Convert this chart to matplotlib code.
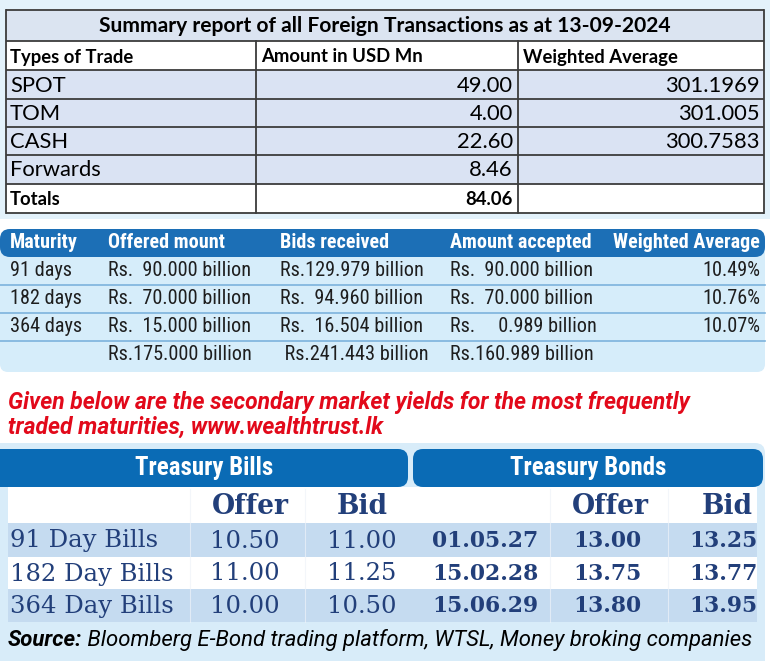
import matplotlib
matplotlib.use("Agg")
import matplotlib.pyplot as plt
from matplotlib.patches import Rectangle, FancyBboxPatch
from matplotlib.font_manager import FontProperties, findfont
from matplotlib.textpath import TextPath

# ---------------- data ----------------
fx_title = "Summary report of all Foreign Transactions as at 13-09-2024"
fx_headers = ["Types of Trade", "Amount in USD Mn", "Weighted Average"]
fx_types = ["SPOT", "TOM", "CASH", "Forwards"]
fx_amounts = ["49.00", "4.00", "22.60", "8.46"]
fx_wavg = ["301.1969", "301.005", "300.7583", ""]
fx_total_label = "Totals"
fx_total = "84.06"

tb_headers = ["Maturity", "Offered mount", "Bids received", "Amount accepted", "Weighted Average"]
tb_maturity = ["91 days", "182 days", "364 days", ""]
tb_offered = ["Rs.  90.000 billion", "Rs.  70.000 billion", "Rs.  15.000 billion", "Rs.175.000 billion"]
tb_bids = ["Rs.129.979 billion", "Rs.  94.960 billion", "Rs.  16.504 billion", " Rs.241.443 billion"]
tb_accepted = ["Rs.  90.000 billion", "Rs.  70.000 billion", "Rs.     0.989 billion", "Rs.160.989 billion"]
tb_wavg = ["10.49%", "10.76%", "10.07%", ""]

note_lines = ["Given below are the secondary market yields for the most frequently",
              "traded maturities, www.wealthtrust.lk"]

sec_group_titles = ["Treasury Bills", "Treasury Bonds"]
sec_col_heads = ["Offer", "Bid", "Offer", "Bid"]
bill_names = ["91 Day Bills", "182 Day Bills", "364 Day Bills"]
bill_offer = ["10.50", "11.00", "10.00"]
bill_bid = ["11.00", "11.25", "10.50"]
bond_dates = ["01.05.27", "15.02.28", "15.06.29"]
bond_offer = ["13.00", "13.75", "13.80"]
bond_bid = ["13.25", "13.77", "13.95"]

source_bold = "Source:"
source_rest = " Bloomberg E-Bond trading platform, WTSL, Money broking companies"

# ---------------- helpers ----------------
W, H = 770, 661
fig = plt.figure(figsize=(W / 100, H / 100), dpi=100)
ax = fig.add_axes([0, 0, 1, 1])
ax.set_xlim(0, W)
ax.set_ylim(H, 0)
ax.axis("off")


def pick(*fams):
    for f in fams:
        try:
            findfont(FontProperties(family=f), fallback_to_default=False)
            return f
        except Exception:
            continue
    return "DejaVu Sans"


F_CAL = pick("Lato", "Open Sans", "Noto Sans")
F_NAR = pick("Liberation Sans Narrow", "Roboto Condensed", "Roboto")
F_ITA = pick("Liberation Sans Narrow", "Roboto", "Liberation Sans")
F_SER = pick("DejaVu Serif", "Liberation Serif")


def fit(sample, width_px, family, weight="normal", style="normal"):
    prop = FontProperties(family=family, weight=weight, style=style)
    tp = TextPath((0, 0), sample, size=10, prop=prop)
    w = tp.get_extents().width
    return 10 * (width_px * 72 / 100) / w


def txt(x, y, s, size, family, weight="normal", style="normal", color="black", ha="left"):
    ax.text(x, y, s, fontsize=size, family=family, weight=weight, style=style,
            color=color, ha=ha, va="center", zorder=5)

# ---------------- section 1: FX summary ----------------
ax.add_patch(Rectangle((0, 0), W, 219, facecolor="#e3f2fb", edgecolor="none", zorder=0))
row_y = [10, 41, 70, 99, 127, 155, 184, 213]
fills = ["#dbe4f1", "#ffffff", "#dae3f3", "#dae3f3", "#dae3f3", "#dae3f3", "#ffffff"]
for i, c in enumerate(fills):
    ax.add_patch(Rectangle((6, row_y[i]), 758, row_y[i + 1] - row_y[i], facecolor=c,
                           edgecolor="none", zorder=1))
lc = "#3c3c3c"
for yy in row_y:
    ax.plot([6, 764], [yy, yy], color=lc, lw=1.3, zorder=2, solid_capstyle="butt")
for xx in [6, 764]:
    ax.plot([xx, xx], [10, 213], color=lc, lw=1.3, zorder=2)
for xx in [256, 518]:
    ax.plot([xx, xx], [41, 213], color=lc, lw=1.3, zorder=2)

s_title = fit(fx_title, 568, F_CAL, "bold")
s_bold = fit(fx_headers[0], 123, F_CAL, "bold")
s_reg = fit("301.1969", 92, F_CAL)
txt(385, 26, fx_title, s_title, F_CAL, "bold", ha="center")
for x, h in zip([10, 261, 523], fx_headers):
    txt(x, 57, h, s_bold, F_CAL, "bold")
for i, (t, a, w) in enumerate(zip(fx_types, fx_amounts, fx_wavg)):
    yc = (row_y[i + 2] + row_y[i + 3]) / 2 + 1
    txt(10, yc, t, s_reg, F_CAL)
    txt(513, yc, a, s_reg, F_CAL, ha="right")
    if w:
        txt(760, yc, w, s_reg, F_CAL, ha="right")
yc = (row_y[6] + row_y[7]) / 2 + 1
txt(10, yc, fx_total_label, s_bold, F_CAL, "bold")
txt(513, yc, fx_total, s_bold, F_CAL, "bold", ha="right")

# ---------------- section 2: T-bill auction ----------------
ax.add_patch(FancyBboxPatch((0, 236), 765, 136, boxstyle="round,pad=0,rounding_size=8",
                            facecolor="#d6edfa", edgecolor="none", zorder=1))
ax.add_patch(FancyBboxPatch((0, 229), 765, 28, boxstyle="round,pad=0,rounding_size=10",
                            facecolor="#1c6fb6", edgecolor="none", zorder=2))
s_h2 = fit(tb_headers[4], 146, F_NAR, "bold")
s_b2 = fit("Rs.175.000 billion", 141, F_NAR)
hx = [10, 108, 280, 450]
for x, h in zip(hx, tb_headers[:4]):
    txt(x, 243, h, s_h2, F_NAR, "bold", color="white")
txt(760, 243, tb_headers[4], s_h2, F_NAR, "bold", color="white", ha="right")
rows2 = [271, 299, 327, 355]
for yy in [285, 313, 341]:
    ax.plot([0, 765], [yy, yy], color="#7db3dc", lw=1.2, zorder=2)
for i, yc in enumerate(rows2):
    txt(10, yc, tb_maturity[i], s_b2, F_NAR, color="#1e1e1e")
    txt(108, yc, tb_offered[i], s_b2, F_NAR, color="#1e1e1e")
    txt(280, yc, tb_bids[i], s_b2, F_NAR, color="#1e1e1e")
    txt(450, yc, tb_accepted[i], s_b2, F_NAR, color="#1e1e1e")
    if tb_wavg[i]:
        txt(760, yc, tb_wavg[i], s_b2, F_NAR, color="#1e1e1e", ha="right")

# ---------------- note ----------------
s_note = fit(note_lines[0], 684, F_ITA, "bold", "italic")
txt(8, 402, note_lines[0], s_note, F_ITA, "bold", "italic", color="#e2091a")
txt(8, 427, note_lines[1], s_note, F_ITA, "bold", "italic", color="#e2091a")

# ---------------- section 3: secondary market ----------------
ax.add_patch(FancyBboxPatch((-20, 443), 785, 240, boxstyle="round,pad=0,rounding_size=10",
                            facecolor="#d8ecf9", edgecolor="none", zorder=1))
ax.add_patch(FancyBboxPatch((-10, 449), 418, 38, boxstyle="round,pad=0,rounding_size=10",
                            facecolor="#0a6bb5", edgecolor="none", zorder=2))
ax.add_patch(FancyBboxPatch((413, 449), 350, 38, boxstyle="round,pad=0,rounding_size=10",
                            facecolor="#0a6bb5", edgecolor="none", zorder=2))
s_h3 = fit(sec_group_titles[0], 137, F_NAR, "bold")
txt(204, 468, sec_group_titles[0], s_h3, F_NAR, "bold", color="white", ha="center")
txt(588, 468, sec_group_titles[1], s_h3, F_NAR, "bold", color="white", ha="center")

band = [487, 523, 557, 589, 622]
band_col = ["#ffffff", "#c5dbf0", "#ffffff", "#c5dbf0"]
for i, c in enumerate(band_col):
    ax.add_patch(Rectangle((8, band[i]), 749, band[i + 1] - band[i], facecolor=c,
                           edgecolor="none", zorder=2))
for xx in [190, 305, 550, 668]:
    ax.plot([xx, xx], [band[0] + 2, band[-1]], color="#eef3f9", lw=0.8, alpha=0.7, zorder=3)

navy = "#223f7a"
s_ch = fit("Offer", 76, F_SER, "bold")
s_bn = fit(bill_names[1], 159, F_SER)
s_bv = fit(bill_offer[0], 65, F_SER)
s_bd = fit(bond_dates[0], 104, F_SER, "bold")
for x, h in zip([250, 362, 610, 727], sec_col_heads):
    txt(x, 507, h, s_ch, F_SER, "bold", color=navy, ha="center")
for i in range(3):
    yc = (band[i + 1] + band[i + 2]) / 2 + 1
    txt(10, yc, bill_names[i], s_bn, F_SER, color=navy)
    txt(245, yc, bill_offer[i], s_bv, F_SER, color=navy, ha="center")
    txt(362, yc, bill_bid[i], s_bv, F_SER, color=navy, ha="center")
    txt(485, yc, bond_dates[i], s_bd, F_SER, "bold", color=navy, ha="center")
    txt(607, yc, bond_offer[i], s_bd, F_SER, "bold", color=navy, ha="center")
    txt(723, yc, bond_bid[i], s_bd, F_SER, "bold", color=navy, ha="center")

s_src = fit(source_bold + source_rest, 744, F_ITA, "normal", "italic")
t1 = ax.text(8, 640, source_bold, fontsize=s_src, family=F_ITA, weight="bold",
             style="italic", color="black", va="center", zorder=5)
fig.canvas.draw()
bb = t1.get_window_extent()
x_end = bb.x1
ax.annotate(source_rest, xy=(x_end, H - 640), xycoords="figure pixels",
            fontsize=s_src, family=F_ITA, style="italic", color="black",
            va="center", ha="left", zorder=5)

fig.savefig("out.png", dpi=100)
